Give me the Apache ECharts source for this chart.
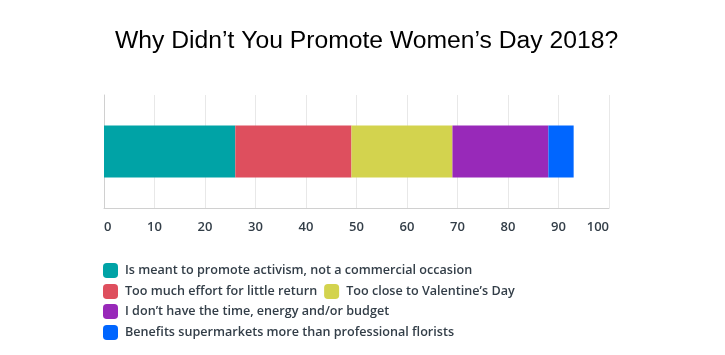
<!DOCTYPE html>
<html><head><meta charset="utf-8">
<script src="https://cdn.jsdelivr.net/npm/echarts@6/dist/echarts.min.js"></script>
<style>html,body{margin:0;padding:0;background:#fff}#c{width:725px;height:355px}</style>
</head><body><div id="c"></div>
<script>
const titleText = "Why Didn\u2019t You Promote Women\u2019s Day 2018?";
const categories = ["Reason"];
const seriesNames = [
  "Is meant to promote activism, not a commercial occasion",
  "Too much effort for little return",
  "Too close to Valentine\u2019s Day",
  "I don\u2019t have the time, energy and/or budget",
  "Benefits supermarkets more than professional florists"
];
const seriesValues = [26, 23, 20, 19, 5];
const colors = ["#00A3A6", "#DE4F5E", "#D3D34E", "#9829B9", "#0066FF"];
const xTicks = [0, 10, 20, 30, 40, 50, 60, 70, 80, 90, 100];

const chart = echarts.init(document.getElementById('c'), null, {renderer: 'canvas'});
const legendText = {fontFamily: "Open Sans", fontSize: 12.6, fontWeight: 600, color: "#333e48", padding: [0, 0, 0, 2]};
const legendRows = [[0], [1, 2], [3], [4]];
const legendTops = [263, 284, 304, 325];
const legends = legendRows.map((row, i) => ({
  data: row.map(j => seriesNames[j]),
  left: 103, top: legendTops[i], orient: 'horizontal',
  itemWidth: 15, itemHeight: 15, itemGap: 7,
  icon: 'roundRect', textStyle: legendText, padding: 0
}));
chart.setOption({
  animation: false,
  color: colors,
  title: {text: titleText, left: 115, top: 29, padding: 0,
    textStyle: {fontFamily: "Liberation Sans", fontSize: 24.7, fontWeight: 'normal', color: '#000'}},
  legend: legends,
  grid: {left: 104, right: 116, top: 95, bottom: 147, containLabel: false},
  xAxis: {type: 'value', min: xTicks[0], max: xTicks[xTicks.length-1], interval: 10,
    axisLine: {show: true, lineStyle: {color: '#d0d0d0', width: 1}},
    axisTick: {show: false},
    splitLine: {show: true, lineStyle: {color: '#e8e8e8'}},
    axisLabel: {margin: 13, color: '#333e48', fontFamily: "Open Sans", fontSize: 13, fontWeight: 600,
      alignMinLabel: 'left', alignMaxLabel: 'right'}},
  yAxis: {type: 'category', data: categories,
    axisLine: {show: true, lineStyle: {color: '#d0d0d0'}},
    axisTick: {show: false}, axisLabel: {show: false}},
  series: seriesNames.map((n, i) => ({
    name: n, type: 'bar', stack: 'all', barWidth: 52,
    data: [seriesValues[i]]
  }))
});
</script></body></html>
